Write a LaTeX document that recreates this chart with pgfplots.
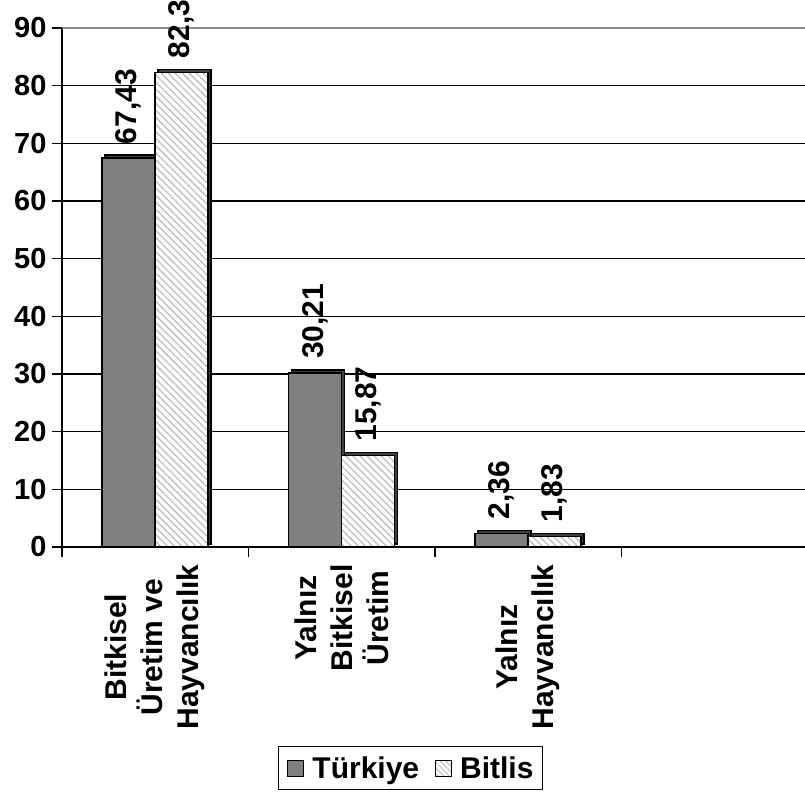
\documentclass[border=0pt]{standalone}
\usepackage{fontspec}
\setmainfont{Liberation Sans}
\usepackage{pgfplots}
\pgfplotsset{compat=1.18}
\usetikzlibrary{patterns.meta,shadows}

\definecolor{tgray}{RGB}{128,128,128}
\definecolor{hatch}{RGB}{190,190,190}

\newcommand{\bigfont}{\fontsize{30bp}{36bp}\selectfont\bfseries}
\newcommand{\tickfont}{\fontsize{29bp}{34bp}\selectfont\bfseries}

\begin{document}
\begin{tikzpicture}
\path[use as bounding box] (0,0) rectangle (805bp,796bp);
\begin{axis}[
    at={(62bp,249bp)}, anchor=south west,
    width=743bp, height=519bp, scale only axis,
    ybar=0pt, bar width=53bp,
    xmin=-0.5, xmax=3.485,
    ymin=0, ymax=90,
    axis x line*=bottom, axis y line*=left,
    x axis line style={line width=2.5bp},
    y axis line style={line width=2bp},
    xtick={0,1,2},
    xticklabels={{Bitkisel\\Üretim ve\\Hayvancılık},{Yalnız\\Bitkisel\\Üretim},{Yalnız\\Hayvancılık}},
    major x tick style={draw=none},
    minor xtick={-0.5,0.5,1.5,2.5},
    minor x tick style={black, line width=1.5bp},
    tick align=outside,
    major tick length=10bp, minor tick length=10bp,
    xticklabel style={rotate=90, anchor=east, align=center, font=\bigfont, xshift=-4bp},
    ytick={0,10,...,80},
    extra y ticks={90},
    extra y tick style={major grid style={black!45, line width=1.5bp}},
    y tick style={black, line width=1.5bp},
    yticklabel style={font=\tickfont, xshift=-2bp},
    /pgf/number format/assume math mode=true,
    ymajorgrids,
    major grid style={black, line width=1.5bp},
    point meta=explicit symbolic,
    nodes near coords,
    nodes near coords style={rotate=90, anchor=west, font=\bigfont, xshift=10bp},
    legend style={at={(0.469,-0.426)}, anchor=center, legend columns=2,
        draw=black, line width=1.5bp, font=\fontsize{30bp}{34bp}\selectfont\bfseries,
        inner xsep=7bp, inner ysep=8bp,
        /tikz/every even column/.append style={column sep=12bp}},
]
\addplot[bar shift=-26.5bp, fill=tgray, draw=black, line width=1.5bp,
    drop shadow={shadow xshift=3bp, shadow yshift=3bp, fill=black!75, opacity=1}, forget plot]
    coordinates {(0,67.43) [67,43] (1,30.21) [30,21] (2,2.36) [2,36]};
\addplot[bar shift=26.5bp, fill=white, draw=black, line width=1.5bp,
    drop shadow={shadow xshift=3bp, shadow yshift=3bp, fill=black!75, opacity=1},
    postaction={pattern={Lines[angle=-45, distance=5bp, line width=1.3bp]}, pattern color=hatch}, forget plot]
    coordinates {(0,82.3) [82,3] (1,15.87) [15,87] (2,1.83) [1,83]};
\addlegendimage{legend image code/.code={\draw[fill=tgray, draw=black, line width=1bp] (2bp,-8bp) rectangle (18bp,8bp); \path[draw=none, fill=none] (0bp,0bp) rectangle (25bp,0.1bp);}}
\addlegendentry{Türkiye}
\addlegendimage{legend image code/.code={\draw[fill=white, draw=black, line width=1bp, postaction={pattern={Lines[angle=-45, distance=4bp, line width=1bp]}, pattern color=hatch}] (2bp,-8bp) rectangle (18bp,8bp); \path[draw=none, fill=none] (0bp,0bp) rectangle (25bp,0.1bp);}}
\addlegendentry{Bitlis}
\end{axis}
\end{tikzpicture}
\end{document}
